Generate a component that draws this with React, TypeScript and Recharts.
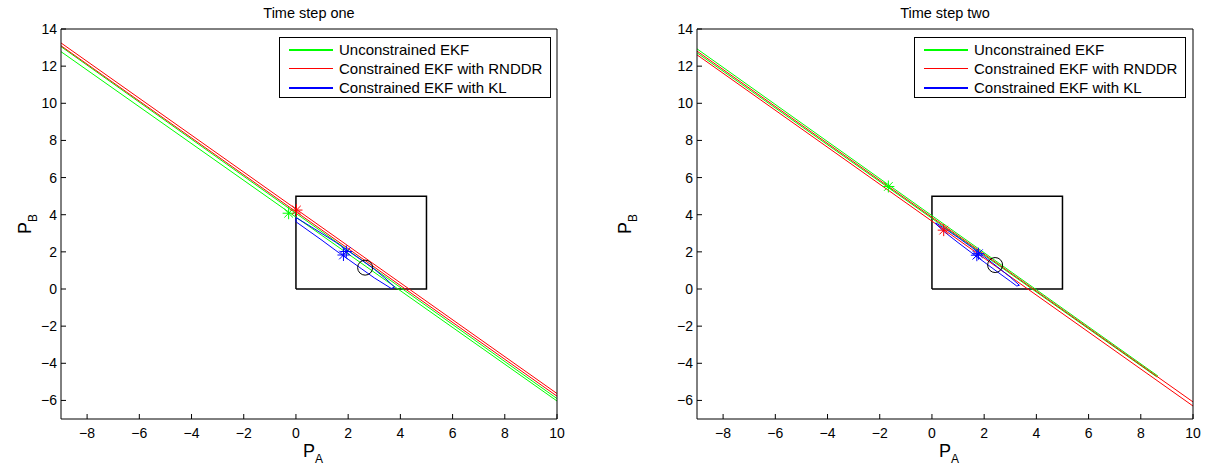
import React from "react";
import { ComposedChart, Line, Scatter, XAxis, YAxis, Legend, Label } from "recharts";

type Pt = { x: number; y: number };

const FONT = "'Liberation Sans', Arial, Helvetica, sans-serif";
const GREEN = "#00ff00";
const RED = "#ff0000";
const BLUE = "#0000ff";

const X_TICKS = [-8, -6, -4, -2, 0, 2, 4, 6, 8, 10];
const Y_TICKS = [-6, -4, -2, 0, 2, 4, 6, 8, 10, 12, 14];

const LEGEND_NAMES = ["Unconstrained EKF", "Constrained EKF with RNDDR", "Constrained EKF with KL"];
const LEGEND_COLORS = [GREEN, RED, BLUE];

// constraint box 0 <= P <= 5
const BOX: Pt[] = [
  { x: 0, y: 0 }, { x: 5, y: 0 }, { x: 5, y: 5 }, { x: 0, y: 5 }, { x: 0, y: 0 },
];

// ---- time step one ----
const oneGreenA: Pt[] = [{ x: -9, y: 13.05 }, { x: 10, y: -5.9 }];
const oneGreenB: Pt[] = [{ x: -9, y: 12.78 }, { x: 10, y: -6.03 }];
const oneRedA: Pt[] = [{ x: -9, y: 13.25 }, { x: 10, y: -5.63 }];
const oneRedB: Pt[] = [{ x: -9, y: 13.1 }, { x: 10, y: -5.77 }];
const oneBlue: Pt[] = [
  { x: 0, y: 3.85 }, { x: 0.5, y: 3.42 }, { x: 1, y: 2.98 }, { x: 1.5, y: 2.54 },
  { x: 2, y: 2.05 }, { x: 2.5, y: 1.57 }, { x: 3, y: 1.07 }, { x: 3.4, y: 0.6 },
  { x: 3.78, y: 0.1 }, { x: 3.65, y: 0.03 }, { x: 3, y: 0.6 }, { x: 2.5, y: 1.1 },
  { x: 2, y: 1.6 }, { x: 1.5, y: 2.1 }, { x: 1, y: 2.62 }, { x: 0.5, y: 3.12 },
  { x: 0, y: 3.62 }, { x: 0, y: 3.85 },
];
const oneGreenStar: Pt[] = [{ x: -0.28, y: 4.08 }];
const oneRedStar: Pt[] = [{ x: 0.02, y: 4.25 }];
const oneBlueStar: Pt[] = [{ x: 1.93, y: 2.02 }, { x: 1.82, y: 1.83 }];
const oneTruth: Pt[] = [{ x: 2.65, y: 1.15 }];

// ---- time step two ----
const twoGreen: Pt[] = [
  { x: -9, y: 12.93 }, { x: 8.65, y: -4.68 }, { x: 8.6, y: -4.72 }, { x: -9, y: 12.72 },
];
const twoRedA: Pt[] = [{ x: -9, y: 12.81 }, { x: 10, y: -6.08 }];
const twoRedB: Pt[] = [{ x: -9, y: 12.61 }, { x: 10, y: -6.3 }];
const twoBlue: Pt[] = [
  { x: 0.15, y: 3.56 }, { x: 0.5, y: 3.25 }, { x: 1, y: 2.77 }, { x: 1.5, y: 2.27 },
  { x: 2, y: 1.75 }, { x: 2.5, y: 1.2 }, { x: 3, y: 0.64 }, { x: 3.35, y: 0.2 },
  { x: 3.25, y: 0.16 }, { x: 3, y: 0.42 }, { x: 2.5, y: 0.93 }, { x: 2, y: 1.45 },
  { x: 1.5, y: 1.97 }, { x: 1, y: 2.5 }, { x: 0.5, y: 3.05 }, { x: 0.15, y: 3.5 },
  { x: 0.15, y: 3.56 },
];
const twoGreenStar: Pt[] = [{ x: -1.67, y: 5.52 }];
const twoRedStar: Pt[] = [{ x: 0.45, y: 3.17 }];
const twoBlueStar: Pt[] = [{ x: 1.78, y: 1.9 }, { x: 1.72, y: 1.82 }];
const twoTruth: Pt[] = [{ x: 2.42, y: 1.29 }];

const fmt = (v: number) => String(v).replace("-", "\u2212");

const asterisk = (color: string) => (props: any) => {
  const { cx, cy } = props;
  const r = 6;
  const d = 4.3;
  return (
    <g stroke={color} strokeWidth={1}>
      <line x1={cx - r} y1={cy} x2={cx + r} y2={cy} />
      <line x1={cx} y1={cy - r} x2={cx} y2={cy + r} />
      <line x1={cx - d} y1={cy - d} x2={cx + d} y2={cy + d} />
      <line x1={cx - d} y1={cy + d} x2={cx + d} y2={cy - d} />
    </g>
  );
};

const ring = (props: any) => (
  <circle cx={props.cx} cy={props.cy} r={7.5} fill="none" stroke="#000" strokeWidth={1} />
);

const LEGEND_THICK = [2, 1, 2];

const renderLegend = () => (
  <div
    style={{
      border: "1px solid #000",
      background: "#fff",
      boxSizing: "border-box",
      width: 272,
      height: 61,
      paddingTop: 2,
      fontFamily: FONT,
      fontSize: 15,
      color: "#000",
    }}
  >
    {LEGEND_NAMES.map((name, i) => (
      <div key={name} style={{ display: "flex", alignItems: "center", height: 19 }}>
        <span
          style={{
            display: "inline-block",
            width: 44,
            borderTop: `${LEGEND_THICK[i]}px solid ${LEGEND_COLORS[i]}`,
            margin: "0 6px 0 9px",
          }}
        />
        <span style={{ whiteSpace: "nowrap" }}>{name}</span>
      </div>
    ))}
  </div>
);

interface SeriesDef {
  data: Pt[];
  color: string;
}

interface PanelProps {
  title: string;
  left: number;
  width: number;
  marginLeft: number;
  marginRight: number;
  legendLeft: number;
  lines: SeriesDef[];
  stars: SeriesDef[];
  truth: Pt[];
}

function Panel(p: PanelProps) {
  const axisLine = { stroke: "#000", strokeWidth: 1 };
  const tick = { fill: "#000", fontSize: 14, fontFamily: FONT };
  return (
    <div style={{ position: "absolute", left: p.left, top: 0 }}>
      <ComposedChart
        width={p.width}
        height={468}
        margin={{ top: 28, right: p.marginRight, bottom: 19, left: p.marginLeft }}
      >
        <XAxis
          type="number"
          dataKey="x"
          domain={[-9, 10]}
          ticks={X_TICKS}
          interval={0}
          allowDataOverflow
          height={30}
          tickSize={-5}
          tickMargin={14}
          tickFormatter={fmt}
          tick={tick}
          axisLine={axisLine}
          tickLine={axisLine}
        >
          <Label
            content={(lp: any) => {
              const vb = lp.viewBox;
              const cx = vb.x + vb.width / 2;
              return (
                <text x={cx - 6} y={457} fontFamily={FONT} fontSize={18} fill="#000">
                  P
                  <tspan dy={6} fontSize={12}>A</tspan>
                </text>
              );
            }}
          />
        </XAxis>
        <XAxis
          xAxisId="top"
          orientation="top"
          type="number"
          domain={[-9, 10]}
          ticks={X_TICKS}
          interval={0}
          allowDataOverflow
          height={1}
          tickSize={-5}
          tick={false}
          axisLine={axisLine}
          tickLine={axisLine}
        >
          <Label
            content={(lp: any) => {
              const vb = lp.viewBox;
              return (
                <text
                  x={vb.x + vb.width / 2}
                  y={18}
                  textAnchor="middle"
                  fontFamily={FONT}
                  fontSize={14.5}
                  fill="#000"
                >
                  {p.title}
                </text>
              );
            }}
          />
        </XAxis>
        <YAxis
          type="number"
          dataKey="y"
          domain={[-7, 14]}
          ticks={Y_TICKS}
          interval={0}
          allowDataOverflow
          width={40}
          tickSize={-5}
          tickMargin={9}
          tickFormatter={fmt}
          tick={tick}
          axisLine={axisLine}
          tickLine={axisLine}
        >
          <Label
            content={(lp: any) => {
              const vb = lp.viewBox;
              const cy = vb.y + vb.height / 2;
              const cx = p.marginLeft - (p.marginLeft - 21) + 10;
              return (
                <text
                  x={cx}
                  y={cy}
                  transform={`rotate(-90, ${cx}, ${cy})`}
                  textAnchor="middle"
                  fontFamily={FONT}
                  fontSize={18}
                  fill="#000"
                >
                  P
                  <tspan dy={6} fontSize={12}>B</tspan>
                </text>
              );
            }}
          />
        </YAxis>
        <YAxis
          yAxisId="right"
          orientation="right"
          type="number"
          domain={[-7, 14]}
          ticks={Y_TICKS}
          interval={0}
          allowDataOverflow
          width={1}
          tickSize={-5}
          tick={false}
          axisLine={axisLine}
          tickLine={axisLine}
        />
        <Legend
          layout="horizontal"
          verticalAlign="middle"
          align="center"
          wrapperStyle={{ top: 37, left: p.legendLeft, width: 272, height: 61 }}
          content={renderLegend}
        />
        <Line
          data={BOX}
          dataKey="y"
          type="linear"
          stroke="#000"
          strokeWidth={1.5}
          dot={false}
          legendType="none"
          isAnimationActive={false}
        />
        {p.lines.map((s, i) => (
          <Line
            key={"l" + i}
            data={s.data}
            dataKey="y"
            type="linear"
            stroke={s.color}
            strokeWidth={1}
            dot={false}
            legendType="none"
            isAnimationActive={false}
          />
        ))}
        {p.stars.map((s, i) => (
          <Scatter
            key={"s" + i}
            data={s.data}
            dataKey="y"
            shape={asterisk(s.color)}
            legendType="none"
            isAnimationActive={false}
          />
        ))}
        <Scatter data={p.truth} dataKey="y" shape={ring} legendType="none" isAnimationActive={false} />
      </ComposedChart>
    </div>
  );
}

export default function App() {
  return (
    <div style={{ position: "absolute", left: 0, top: 0, width: 1205, height: 468, background: "#fff" }}>
      <Panel
        title="Time step one"
        left={0}
        width={600}
        marginLeft={21}
        marginRight={42}
        legendLeft={279}
        lines={[
          { data: oneGreenA, color: GREEN },
          { data: oneGreenB, color: GREEN },
          { data: oneRedA, color: RED },
          { data: oneRedB, color: RED },
          { data: oneBlue, color: BLUE },
        ]}
        stars={[
          { data: oneGreenStar, color: GREEN },
          { data: oneRedStar, color: RED },
          { data: oneBlueStar, color: BLUE },
        ]}
        truth={oneTruth}
      />
      <Panel
        title="Time step two"
        left={600}
        width={605}
        marginLeft={57}
        marginRight={11}
        legendLeft={314}
        lines={[
          { data: twoGreen, color: GREEN },
          { data: twoRedA, color: RED },
          { data: twoRedB, color: RED },
          { data: twoBlue, color: BLUE },
        ]}
        stars={[
          { data: twoGreenStar, color: GREEN },
          { data: twoRedStar, color: RED },
          { data: twoBlueStar, color: BLUE },
        ]}
        truth={twoTruth}
      />
    </div>
  );
}
